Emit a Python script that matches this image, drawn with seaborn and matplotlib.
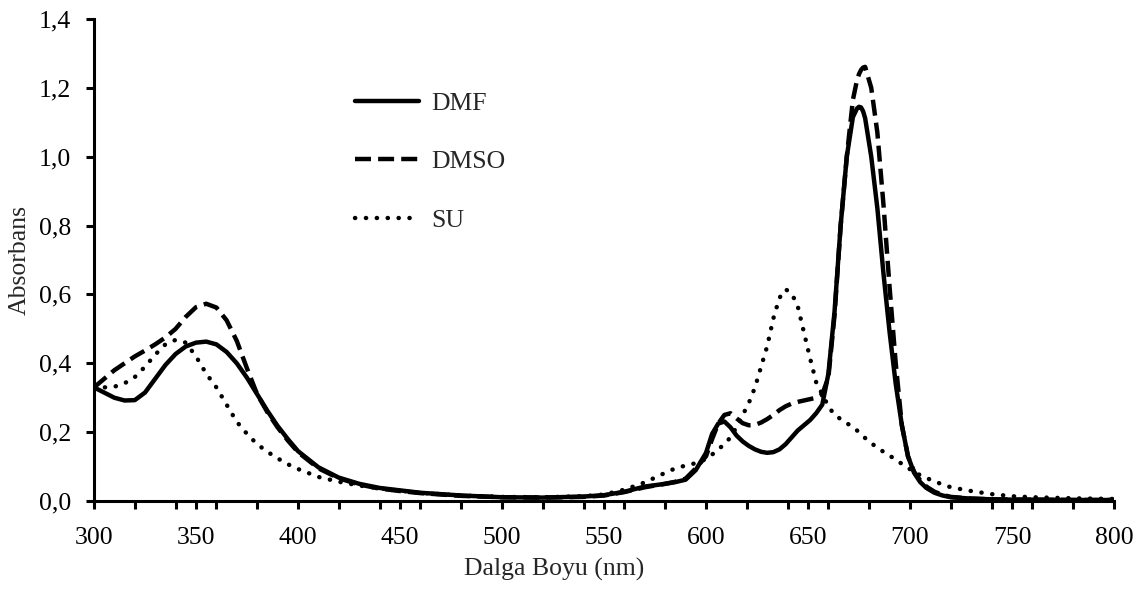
import numpy as np
import pandas as pd
import seaborn as sns
import matplotlib
matplotlib.use("Agg")
import matplotlib.pyplot as plt
from matplotlib.ticker import FuncFormatter, MultipleLocator

# Wavelength grid (nm) shared by all three spectra
wavelength = [300, 305, 310, 315, 320, 325, 330, 335, 340, 345, 350, 355, 360, 365,
              370, 375, 380, 385, 390, 395, 400, 410, 420, 430, 440, 450, 460, 480,
              500, 520, 540, 550, 560, 570, 580, 585, 590, 595, 600, 603, 606, 609,
              612, 615, 618, 621, 624, 627, 630, 633, 636, 639, 642, 645, 648, 651,
              654, 657, 660, 663, 666, 669, 672, 674, 675, 676, 677, 678, 681, 684,
              687, 690, 693, 696, 699, 702, 705, 708, 712, 716, 720, 730, 740, 750,
              760, 780, 800]

# Absorbance in DMF
abs_dmf = [0.330, 0.315, 0.300, 0.292, 0.293, 0.315, 0.355, 0.395, 0.427, 0.449,
           0.460, 0.463, 0.455, 0.433, 0.400, 0.358, 0.310, 0.262, 0.218, 0.180,
           0.145, 0.098, 0.068, 0.050, 0.038, 0.031, 0.024, 0.016, 0.011, 0.010,
           0.013, 0.017, 0.027, 0.042, 0.050, 0.055, 0.062, 0.090, 0.140, 0.195,
           0.225, 0.231, 0.214, 0.190, 0.173, 0.160, 0.150, 0.143, 0.140, 0.142,
           0.150, 0.165, 0.185, 0.205, 0.220, 0.235, 0.255, 0.280, 0.370, 0.550,
           0.800, 1.000, 1.115, 1.140, 1.145, 1.143, 1.132, 1.112, 1.000, 0.850,
           0.660, 0.490, 0.340, 0.220, 0.130, 0.082, 0.055, 0.038, 0.024, 0.016,
           0.011, 0.007, 0.005, 0.004, 0.004, 0.003, 0.003]

# Absorbance in DMSO
abs_dmso = [0.330, 0.355, 0.380, 0.400, 0.420, 0.437, 0.455, 0.475, 0.500, 0.535,
            0.563, 0.573, 0.562, 0.525, 0.465, 0.385, 0.310, 0.258, 0.214, 0.176,
            0.142, 0.095, 0.066, 0.048, 0.036, 0.029, 0.023, 0.015, 0.011, 0.010,
            0.012, 0.016, 0.026, 0.040, 0.050, 0.056, 0.065, 0.095, 0.130, 0.180,
            0.225, 0.250, 0.255, 0.240, 0.226, 0.220, 0.221, 0.228, 0.238, 0.250,
            0.264, 0.275, 0.283, 0.288, 0.292, 0.296, 0.300, 0.310, 0.360, 0.540,
            0.800, 1.000, 1.165, 1.222, 1.240, 1.252, 1.259, 1.261, 1.200, 1.070,
            0.860, 0.620, 0.400, 0.220, 0.130, 0.085, 0.060, 0.042, 0.027, 0.018,
            0.012, 0.007, 0.005, 0.004, 0.004, 0.003, 0.003]

# Absorbance in water
abs_su = [0.330, 0.330, 0.332, 0.342, 0.360, 0.390, 0.425, 0.455, 0.468, 0.460,
          0.420, 0.370, 0.330, 0.280, 0.230, 0.195, 0.165, 0.143, 0.124, 0.107,
          0.093, 0.070, 0.056, 0.045, 0.037, 0.030, 0.024, 0.016, 0.012, 0.011,
          0.014, 0.019, 0.033, 0.054, 0.082, 0.095, 0.103, 0.110, 0.122, 0.135,
          0.150, 0.165, 0.185, 0.215, 0.250, 0.285, 0.330, 0.390, 0.450, 0.530,
          0.590, 0.615, 0.603, 0.565, 0.490, 0.415, 0.345, 0.310, 0.275, 0.250,
          0.238, 0.226, 0.215, 0.205, 0.200, 0.195, 0.189, 0.183, 0.168, 0.155,
          0.143, 0.132, 0.120, 0.108, 0.096, 0.085, 0.075, 0.067, 0.057, 0.048,
          0.040, 0.029, 0.020, 0.014, 0.011, 0.008, 0.006]

series_labels = ["DMF", "DMSO", "SU"]
x_ticks = [300, 350, 400, 450, 500, 550, 600, 650, 700, 750, 800]
y_ticks = [0.0, 0.2, 0.4, 0.6, 0.8, 1.0, 1.2, 1.4]

sns.set_style("ticks")
plt.rcParams["font.family"] = ["Liberation Serif", "DejaVu Serif"]
plt.rcParams["font.size"] = 18.5

fig = plt.figure(figsize=(11.42, 5.90), dpi=100)
ax = fig.add_axes([0.0823, 0.1508, 0.8932, 0.8170])

lw = 3.2
styles = {
    "DMF": dict(linestyle="-"),
    "DMSO": dict(linestyle=(0, (3.6, 1.6))),
    "SU": dict(linestyle=(0, (0.05, 2.4)), dash_capstyle="round"),
}
values = {"DMF": abs_dmf, "DMSO": abs_dmso, "SU": abs_su}

for name in series_labels:
    sns.lineplot(x=wavelength, y=values[name], ax=ax, color="black",
                 linewidth=lw, label=name, **styles[name])

ax.set_xlim(300, 800)
ax.set_ylim(0, 1.4)
ax.set_xticks(x_ticks)
ax.set_yticks(y_ticks)
ax.xaxis.set_minor_locator(MultipleLocator(20))
ax.yaxis.set_major_formatter(FuncFormatter(lambda v, p: f"{v:.1f}".replace(".", ",")))
ax.xaxis.set_major_formatter(FuncFormatter(lambda v, p: f"{v:.0f}"))

for side in ("top", "right"):
    ax.spines[side].set_visible(False)
for side in ("left", "bottom"):
    ax.spines[side].set_linewidth(2.2)
    ax.spines[side].set_color("black")

ax.tick_params(axis="both", which="both", direction="out", width=2.2,
               length=5.5, color="black", labelsize=18.5, labelcolor="black")
ax.tick_params(axis="y", pad=11)
ax.tick_params(axis="x", pad=13)
ax.tick_params(axis="x", which="minor", labelbottom=False)

ax.set_xlabel("Dalga Boyu (nm)", fontsize=18.5, labelpad=5)
ax.xaxis.set_label_coords(0.451, -0.118)
ax.set_ylabel("Absorbans", fontsize=18.5, labelpad=6)

leg = ax.legend(loc="upper left", bbox_to_anchor=(0.256, 0.848), frameon=False,
                handlelength=2.5, handletextpad=0.45, labelspacing=1.37,
                borderpad=0, borderaxespad=0, fontsize=18.5)

fig.savefig("out.png", dpi=100, facecolor="white")
